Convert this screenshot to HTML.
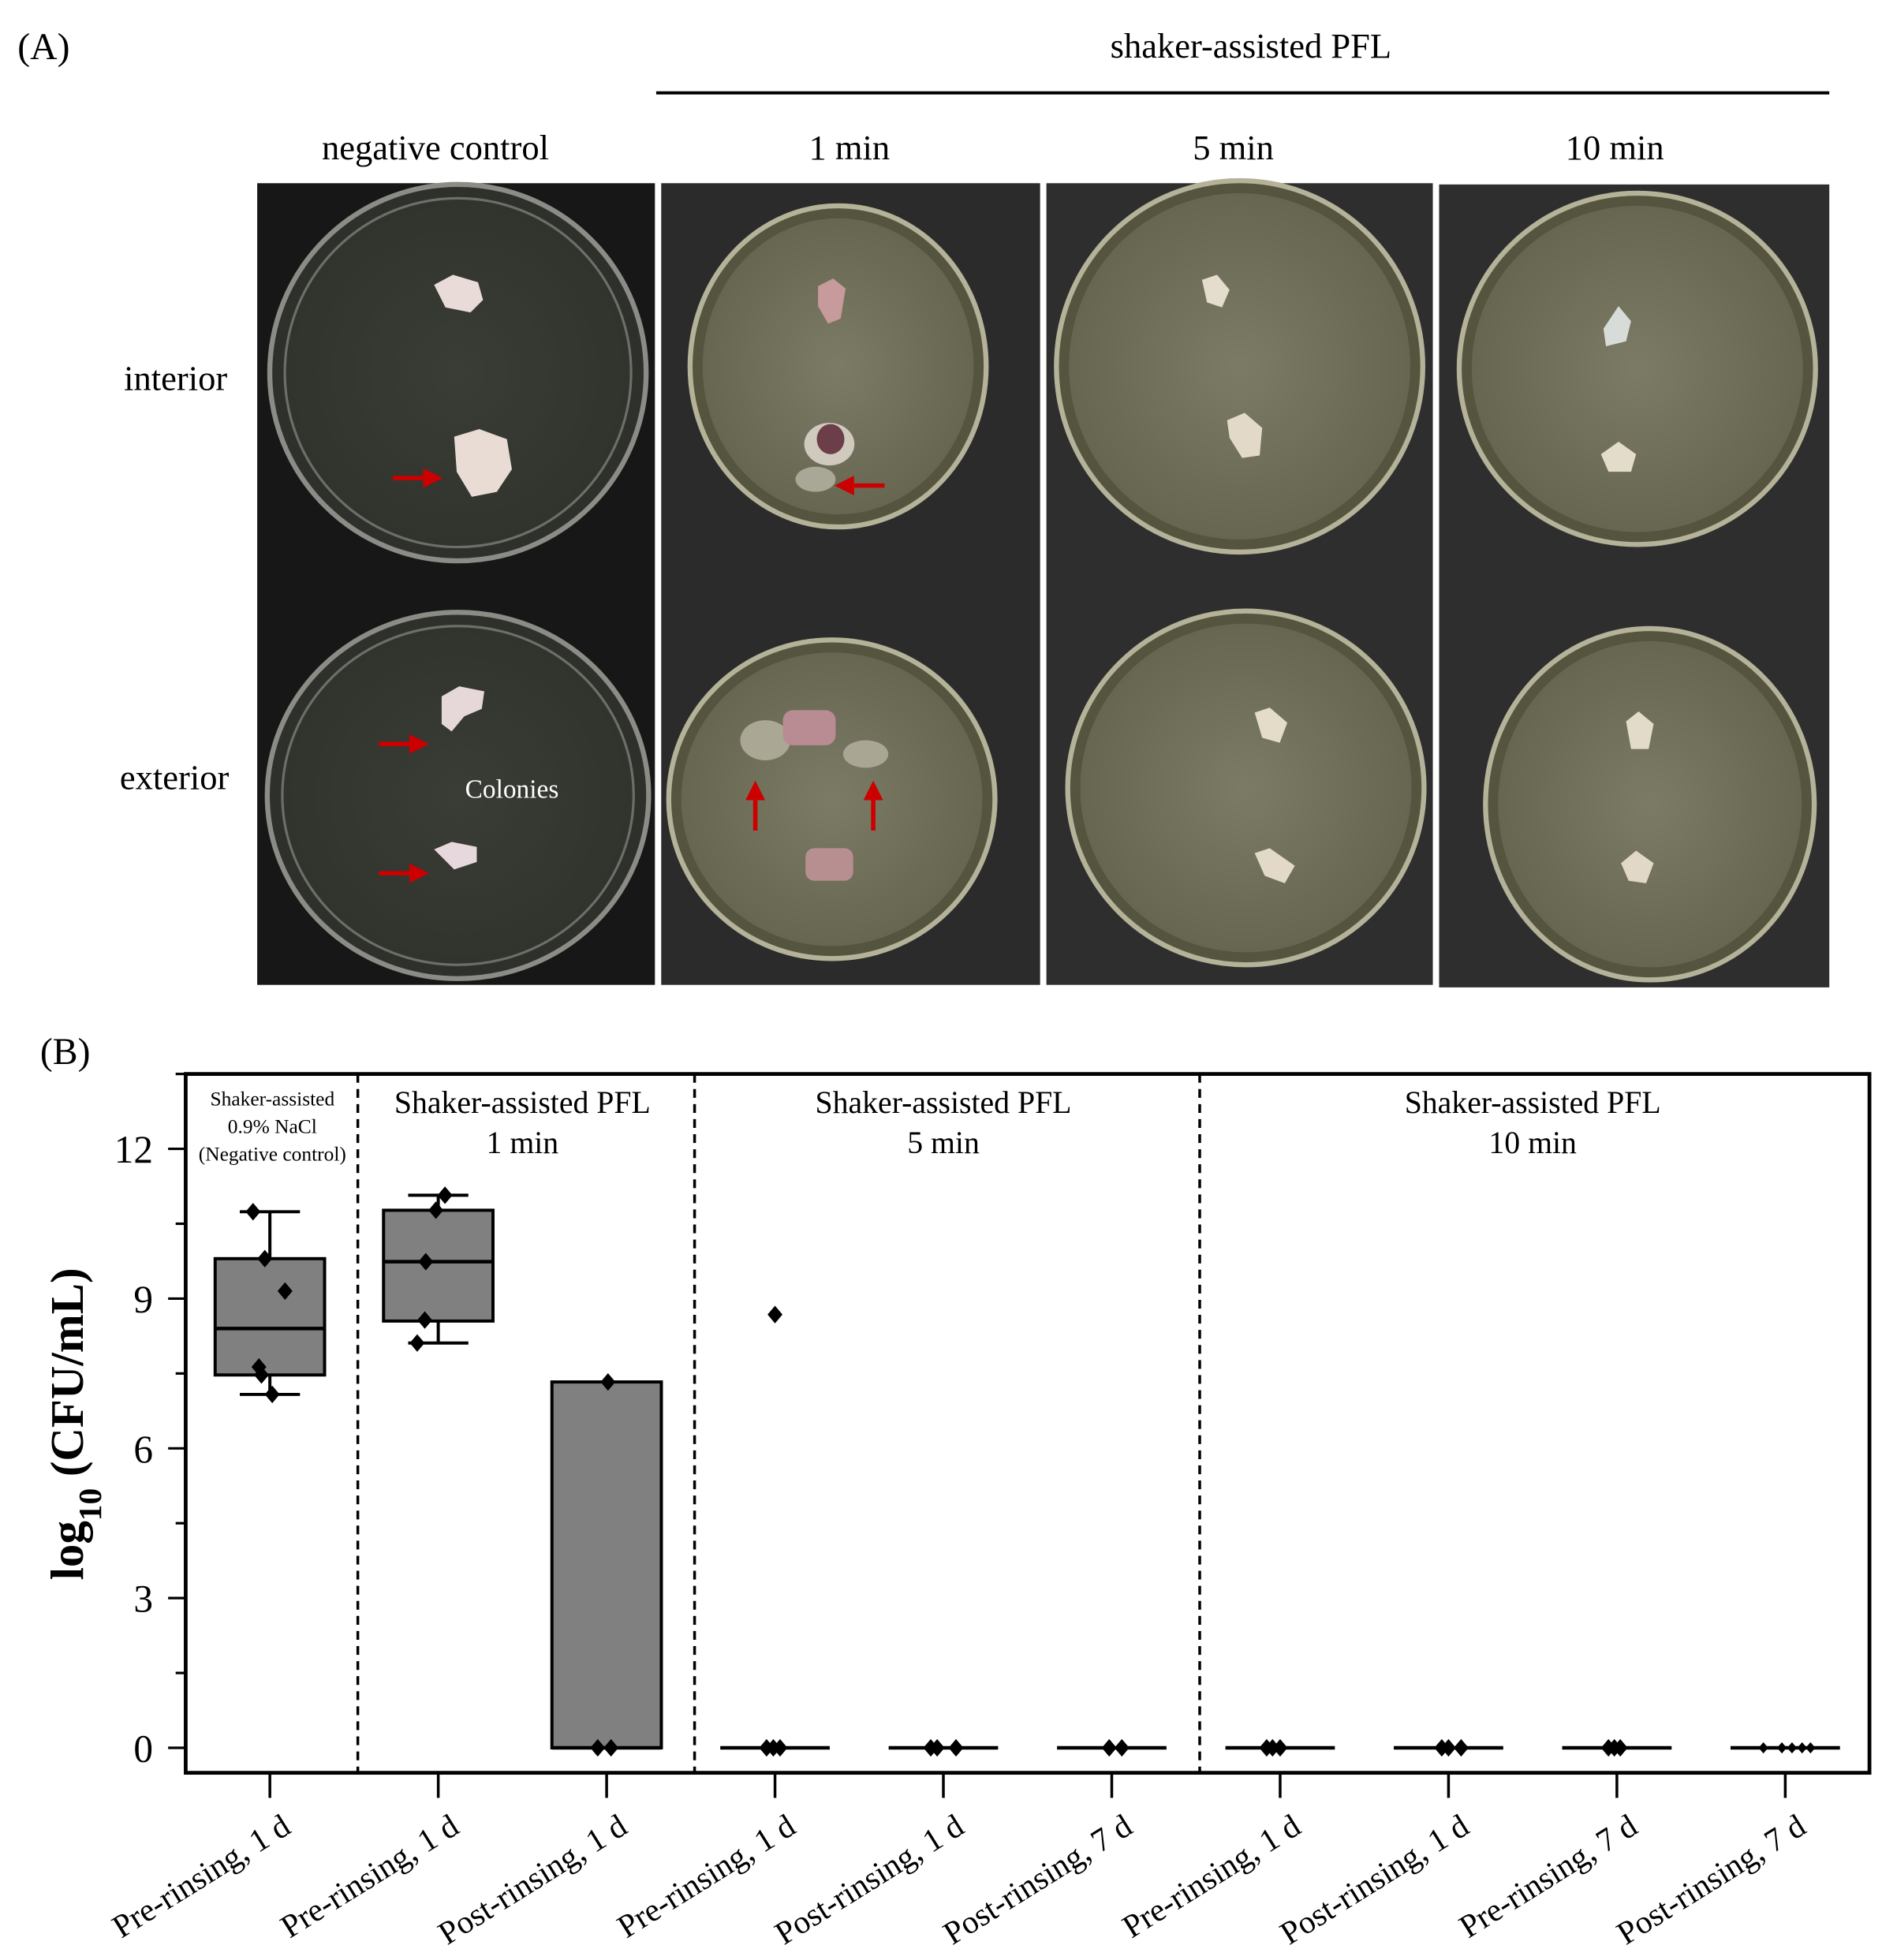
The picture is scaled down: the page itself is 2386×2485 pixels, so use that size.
<!DOCTYPE html>
<html><head><meta charset="utf-8"><style>
html,body{margin:0;padding:0;background:#fff}
svg{display:block}
text{font-family:"Liberation Serif",serif}
</style></head><body>
<svg id="fig" width="2386" height="2485" viewBox="0 0 1500 1562.2" xmlns="http://www.w3.org/2000/svg">
<defs>
<radialGradient id="agarY" cx="50%" cy="50%" r="55%"><stop offset="0" stop-color="#7c7b66"/><stop offset="1" stop-color="#65644f"/></radialGradient>
<radialGradient id="agarD" cx="50%" cy="50%" r="55%"><stop offset="0" stop-color="#3a3c36"/><stop offset="1" stop-color="#30322c"/></radialGradient>
</defs>
<g>
<text x="14" y="47" font-size="30">(A)</text>
<text x="997" y="46" font-size="28" text-anchor="middle">shaker-assisted  PFL</text>
<line x1="523" y1="74" x2="1458" y2="74" stroke="#000" stroke-width="2.5"/>
<text x="347" y="127" font-size="28" text-anchor="middle">negative control</text>
<text x="677" y="127" font-size="28" text-anchor="middle">1 min</text>
<text x="983" y="127" font-size="28" text-anchor="middle">5 min</text>
<text x="1287" y="127" font-size="28" text-anchor="middle">10 min</text>
<text x="140" y="311" font-size="28" text-anchor="middle">interior</text>
<text x="139" y="629" font-size="28" text-anchor="middle">exterior</text>

<g>
<rect x="205" y="146" width="317" height="639" fill="#171717"/>
<ellipse cx="365" cy="297" rx="150" ry="150" fill="#2e302b" stroke="#8c8c86" stroke-width="4"/>
<ellipse cx="365" cy="297" rx="138" ry="139" fill="url(#agarD)" stroke="#6d6e68" stroke-width="2"/>
<ellipse cx="365" cy="634" rx="152" ry="146" fill="#2e302b" stroke="#8c8c86" stroke-width="4"/>
<ellipse cx="365" cy="634" rx="140" ry="135" fill="url(#agarD)" stroke="#6d6e68" stroke-width="2"/>
<path d="M346 227 l15 -8 l20 6 l4 14 l-10 10 l-20 -4 z" fill="#e9dcd8"/>
<path d="M362 348 l20 -6 l22 8 l4 24 l-12 18 l-20 4 l-12 -20 z" fill="#e8dcd5"/>
<path d="M352 555 l14 -8 l20 4 l-2 14 l-14 6 l-10 12 l-8 -6 z" fill="#e6d8d8"/>
<path d="M346 677 l14 -6 l20 4 l0 12 l-18 6 z" fill="#e6d8dc"/>
<text x="408" y="636" font-size="21" fill="#fff" text-anchor="middle">Colonies</text>
<path d="M313 381 h32 M339 376 l10 5 l-10 5 z" stroke="#c00" stroke-width="3.5" fill="#c00"/>
<path d="M302 593 h30 M328 588 l10 5 l-10 5 z" stroke="#c00" stroke-width="3.5" fill="#c00"/>
<path d="M302 696 h30 M328 691 l10 5 l-10 5 z" stroke="#c00" stroke-width="3.5" fill="#c00"/>
</g>
<g>
<rect x="527" y="146" width="302" height="639" fill="#2b2b2b"/>
<ellipse cx="668" cy="292" rx="118" ry="128" fill="#55543f" stroke="#b4b298" stroke-width="4"/>
<ellipse cx="668" cy="292" rx="108" ry="118" fill="url(#agarY)"/>
<ellipse cx="663" cy="637" rx="130" ry="127" fill="#55543f" stroke="#b4b298" stroke-width="4"/>
<ellipse cx="663" cy="637" rx="120" ry="117" fill="url(#agarY)"/>
<path d="M652 228 l12 -6 l10 8 l-4 24 l-10 4 l-8 -14 z" fill="#c79a9c"/>
<ellipse cx="661" cy="354" rx="20" ry="17" fill="#d0c9be"/><ellipse cx="662" cy="350" rx="11" ry="12" fill="#6b3e49"/>
<ellipse cx="650" cy="382" rx="16" ry="10" fill="#a9a796"/>
<ellipse cx="610" cy="590" rx="20" ry="16" fill="#aaa894"/><ellipse cx="690" cy="601" rx="18" ry="11" fill="#a9a794"/>
<rect x="624" y="566" width="42" height="28" rx="8" fill="#b98c93"/>
<rect x="642" y="676" width="38" height="26" rx="7" fill="#b78f91"/>
<path d="M705 387 h-32 M679 382 l-10 5 l10 5 z" stroke="#c00" stroke-width="3.5" fill="#c00"/>
<path d="M602 662 v-32 M597 636 l5 -10 l5 10 z" stroke="#c00" stroke-width="3.5" fill="#c00"/>
<path d="M696 662 v-32 M691 636 l5 -10 l5 10 z" stroke="#c00" stroke-width="3.5" fill="#c00"/>
</g>
<g>
<rect x="834" y="146" width="308" height="639" fill="#2e2e2e"/>
<ellipse cx="988" cy="292" rx="146" ry="148" fill="#55543f" stroke="#b4b298" stroke-width="4"/>
<ellipse cx="988" cy="292" rx="136" ry="138" fill="url(#agarY)"/>
<ellipse cx="993" cy="628" rx="142" ry="141" fill="#55543f" stroke="#b4b298" stroke-width="4"/>
<ellipse cx="993" cy="628" rx="132" ry="131" fill="url(#agarY)"/>
<path d="M958 223 l12 -4 l10 12 l-6 14 l-12 -4 z" fill="#e4dccd"/>
<path d="M978 335 l14 -6 l14 12 l-2 22 l-14 2 l-10 -16 z" fill="#e2d9c8"/>
<path d="M1000 568 l12 -4 l14 12 l-6 16 l-14 -4 z" fill="#e4dcc9"/>
<path d="M1000 680 l12 -4 l20 14 l-8 14 l-16 -6 z" fill="#e2d9c8"/>
</g>
<g>
<rect x="1147" y="147" width="311" height="640" fill="#2e2e2e"/>
<ellipse cx="1305" cy="294" rx="142" ry="140" fill="#55543f" stroke="#b4b298" stroke-width="4"/>
<ellipse cx="1305" cy="294" rx="132" ry="130" fill="url(#agarY)"/>
<ellipse cx="1315" cy="641" rx="131" ry="140" fill="#55543f" stroke="#b4b298" stroke-width="4"/>
<ellipse cx="1315" cy="641" rx="121" ry="130" fill="url(#agarY)"/>
<path d="M1278 262 l12 -18 l10 12 l-4 16 l-16 4 z" fill="#d7dcd8"/>
<path d="M1276 362 l14 -10 l14 10 l-4 14 l-18 0 z" fill="#e4dccb"/>
<path d="M1296 575 l10 -8 l12 10 l-4 20 l-14 0 z" fill="#e3dbc9"/>
<path d="M1292 688 l12 -10 l14 10 l-6 16 l-14 -2 z" fill="#e2d8c8"/>
</g>
</g>

<g id="chart">
<text x="32" y="848" font-size="30">(B)</text>
</g>
</svg>
<script>
const categories = ["Pre-rinsing, 1 d","Pre-rinsing, 1 d","Post-rinsing, 1 d","Pre-rinsing, 1 d","Post-rinsing, 1 d","Post-rinsing, 7 d","Pre-rinsing, 1 d","Post-rinsing, 1 d","Pre-rinsing, 7 d","Post-rinsing, 7 d"];
const boxQ1 = [7.47, 8.55, 0, 0, 0, 0, 0, 0, 0, 0];
const boxMedian = [8.40, 9.74, 0, 0, 0, 0, 0, 0, 0, 0];
const boxQ3 = [9.80, 10.77, 7.33, 0, 0, 0, 0, 0, 0, 0];
const whiskerLow = [7.08, 8.11, 0, 0, 0, 0, 0, 0, 0, 0];
const whiskerHigh = [10.74, 11.07, 7.33, 0, 0, 0, 0, 0, 0, 0];
const pointValues = [[10.74,9.8,9.15,7.63,7.47,7.08],[11.07,10.77,9.74,8.57,8.11],[7.33,0,0],[8.68,0,0,0],[0,0,0],[0,0],[0,0,0],[0,0,0],[0,0,0],[0,0,0,0,0]];
const pointJitter = [[-0.10,-0.03,0.09,-0.065,-0.05,0.014],[0.04,-0.014,-0.074,-0.08,-0.125],[0.008,-0.053,0.026],[0.0,-0.05,-0.01,0.03],[-0.075,-0.037,0.075],[-0.015,0.06],[-0.08,-0.045,0],[-0.04,0,0.075],[-0.05,-0.015,0.02],[-0.13,-0.02,0.04,0.1,0.15]];
const yTicks = [0,3,6,9,12];
const yTickLabels = ["0","3","6","9","12"];
const separators = [1,3,6];
const groupTitles = [["Shaker-assisted","0.9% NaCl","(Negative control)"],["Shaker-assisted PFL","1 min"],["Shaker-assisted PFL","5 min"],["Shaker-assisted PFL","10 min"]];
const groupSpans = [[0,1],[1,3],[3,6],[6,10]];

const NS="http://www.w3.org/2000/svg";
const g=document.getElementById('chart');
const L=148,R=1490,T=856,B=1413,ymin=-0.5,ymax=13.5;
const bw=(R-L)/categories.length;
const xs=i=>L+bw*(i+0.5);
const xp=v=>L+bw*v;
const ys=v=>B-(v-ymin)/(ymax-ymin)*(B-T);
function mk(tag,attrs){const e=document.createElementNS(NS,tag);for(const k in attrs)e.setAttribute(k,attrs[k]);g.appendChild(e);return e;}

const frame=mk('rect',{x:L,y:T,width:R-L,height:B-T,fill:'none',stroke:'#000','stroke-width':3});



separators.forEach(s=>{
  const l=mk('line',{x1:xp(s)+3,x2:xp(s)+3,y1:T,y2:B,stroke:'#000','stroke-width':2.2,'stroke-dasharray':'7,5'});
  
  
});

for(let v=0;v<=13.5;v+=1.5){
  const major=yTicks.includes(v);
  const t=mk('line',{x1:L,x2:L-(major?14:8),y1:ys(v),y2:ys(v),stroke:'#000','stroke-width':2});
  
  
}
yTicks.forEach((v,i)=>{
  const t=mk('text',{x:L-26,y:ys(v)+11,'font-size':31,'text-anchor':'end'});
  t.textContent=yTickLabels[i];
  
  
});
const yt=mk('text',{x:0,y:0,'font-size':37,'font-weight':'bold','text-anchor':'middle',transform:'translate(66,1135) rotate(-90)'});
yt.innerHTML='log<tspan baseline-shift="sub" font-size="26">10</tspan> (CFU/mL)';



groupTitles.forEach((lines,gi)=>{
  const cx=(xp(groupSpans[gi][0])+xp(groupSpans[gi][1]))/2+(gi==0?2:0);
  lines.forEach((ln,j)=>{
    const small=gi==0;
    const t=mk('text',{x:cx,y:small?(881+j*22):(887+j*32),'font-size':small?16:25,'text-anchor':'middle'});
    t.textContent=ln;
    
    
  });
});

categories.forEach((c,i)=>{
  const x=xs(i), hw=bw*0.325;
  const tk=mk('line',{x1:x,x2:x,y1:B,y2:B+20,stroke:'#000','stroke-width':2.2});
  
  
  const lb=mk('text',{x:0,y:0,'font-size':26,'text-anchor':'end',transform:`translate(${x+18},${1460}) rotate(-32)`});
  lb.textContent=c;
  
  
  if(whiskerHigh[i]>boxQ3[i]){
    const w=mk('line',{x1:x,x2:x,y1:ys(whiskerHigh[i]),y2:ys(boxQ3[i]),stroke:'#000','stroke-width':2.5});
    
    
    const cp=mk('line',{x1:x-hw*0.55,x2:x+hw*0.55,y1:ys(whiskerHigh[i]),y2:ys(whiskerHigh[i]),stroke:'#000','stroke-width':2.5});
    
    
  }
  if(whiskerLow[i]<boxQ1[i]){
    const w=mk('line',{x1:x,x2:x,y1:ys(boxQ1[i]),y2:ys(whiskerLow[i]),stroke:'#000','stroke-width':2.5});
    
    
    const cp=mk('line',{x1:x-hw*0.55,x2:x+hw*0.55,y1:ys(whiskerLow[i]),y2:ys(whiskerLow[i]),stroke:'#000','stroke-width':2.5});
    
    
  }
  if(boxQ3[i]>boxQ1[i]){
    const b=mk('rect',{x:x-hw,y:ys(boxQ3[i]),width:2*hw,height:ys(boxQ1[i])-ys(boxQ3[i]),fill:'#808080',stroke:'#000','stroke-width':2.5});
    
    
  }
  const m=mk('line',{x1:x-hw,x2:x+hw,y1:ys(boxMedian[i]),y2:ys(boxMedian[i]),stroke:'#000','stroke-width':2.8});
  
  
  const sz=i==9?4.5:7;
  pointValues[i].forEach((v,j)=>{
    const px=x+pointJitter[i][j]*bw, py=ys(v);
    const p=mk('path',{d:`M${px} ${py-sz} L${px+sz*0.85} ${py} L${px} ${py+sz} L${px-sz*0.85} ${py} Z`,fill:'#000'});
    
    
  });
});
</script>
</body></html>
